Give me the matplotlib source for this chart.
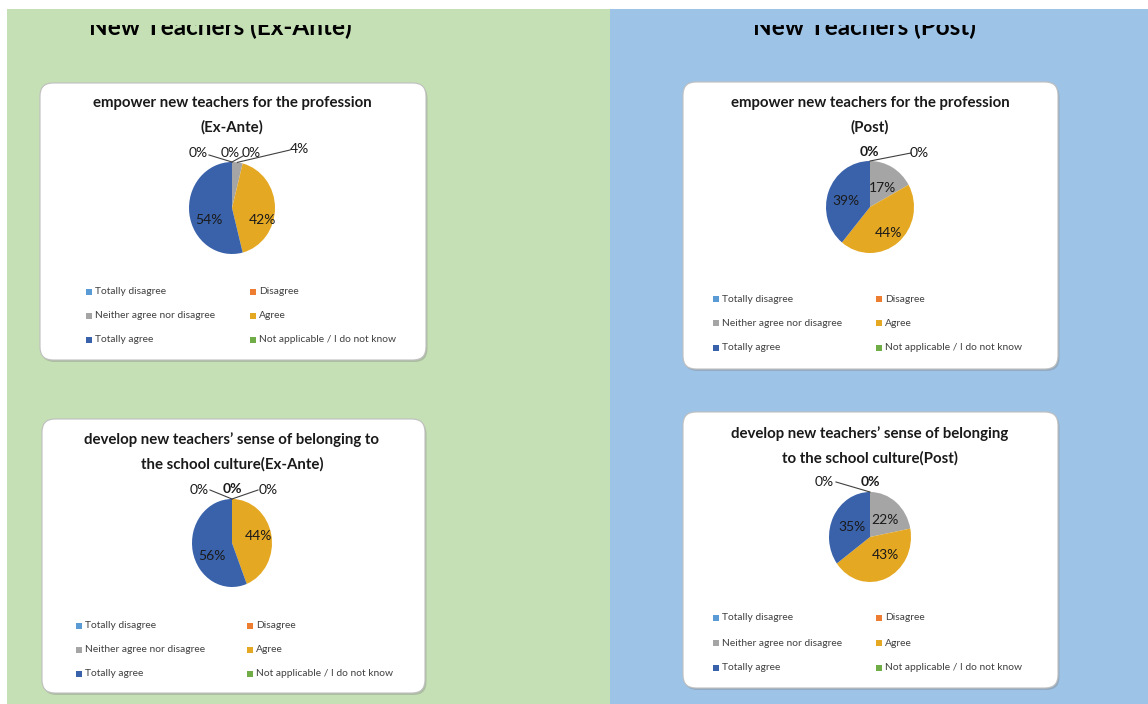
import matplotlib
matplotlib.use("Agg")
import matplotlib.pyplot as plt
from matplotlib.patches import Rectangle, FancyBboxPatch
from matplotlib.transforms import IdentityTransform
import numpy as np

# ---------------- data ----------------
categories = ["Totally disagree", "Disagree", "Neither agree nor disagree",
              "Agree", "Totally agree", "Not applicable / I do not know"]
empower_exante = [0, 0, 4, 42, 54, 0]
belonging_exante = [0, 0, 0, 44, 56, 0]
empower_post = [0, 0, 17, 44, 39, 0]
belonging_post = [0, 0, 22, 43, 35, 0]

panel_titles = ["New Teachers (Ex-Ante)", "New Teachers (Post)"]
chart_titles = [
    "empower new teachers for the profession\n(Ex-Ante)",
    "develop new teachers\u2019 sense of belonging to\nthe school culture(Ex-Ante)",
    "empower new teachers for the profession\n(Post)",
    "develop new teachers\u2019 sense of belonging\nto the school culture(Post)",
]

# ---------------- style ----------------
W, H = 1148, 704
slice_colors = ["#5B9BD5", "#ED7D31", "#A5A5A5", "#E5A823", "#3A62AA", "#70AD47"]
green_bg = "#C5E0B4"
blue_bg = "#9DC3E6"
FONT = "Lato"

plt.rcParams["font.family"] = [FONT, "DejaVu Sans"]

fig = plt.figure(figsize=(W / 100, H / 100), dpi=100)
fig.patch.set_facecolor("white")
ID = IdentityTransform()


def prect(x0, y0, x1, y1, color, z):
    r = Rectangle((x0, H - y1), x1 - x0, y1 - y0, transform=ID,
                  facecolor=color, edgecolor="none", zorder=z)
    fig.add_artist(r)
    return r


def ptext(x, y, s, **kw):
    return fig.text(x, H - y, s, transform=ID, **kw)


# backgrounds
prect(7, 9, 610, H, green_bg, 0)
prect(610, 9, W, H, blue_bg, 0)

# panel titles (cut off at the top as in the source)
for xc, (cx0, cx1), s in [(220, (7, 610), panel_titles[0]),
                          (864, (610, W), panel_titles[1])]:
    t = ptext(xc, 35.5, s, ha="center", va="baseline", fontsize=17.5,
              fontweight="bold", color="black", zorder=3)
    clip = Rectangle((cx0, 0), cx1 - cx0, H - 25, transform=ID)
    t.set_clip_path(clip)
    t.set_clip_on(True)

# chart definitions
charts = [
    dict(values=empower_exante, title=chart_titles[0],
         box=(40, 83, 426, 360), title_xy=(232, 115.5), center=(232, 208), r=(43, 46),
         leg_rows=(292, 316, 340), leg_cols=(89, 253),
         inside={3: (30, 12), 4: (-23, 12)},
         outside=[(5, (-34, -55), False, (-23, -53)),
                  (0, (-2, -55), False, None),
                  (1, (19, -55), False, (11, -52)),
                  (2, (67, -59), False, (58, -58))]),
    dict(values=belonging_exante, title=chart_titles[1],
         box=(42, 419, 425, 693), title_xy=(232, 452), center=(232, 543), r=(40, 44),
         leg_rows=(626, 650, 674), leg_cols=(79, 250),
         inside={3: (26, -7), 4: (-20, 13)},
         outside=[(5, (-33, -53), False, (-22, -53)),
                  (0, (0, -54), True, None),
                  (1, (36, -53), False, (26, -53))]),
    dict(values=empower_post, title=chart_titles[2],
         box=(683, 82, 1058, 369), title_xy=(870, 115.5), center=(870, 207), r=(44, 46),
         leg_rows=(299, 323, 348), leg_cols=(716, 879),
         inside={2: (12, -19), 3: (18, 26), 4: (-24, -6)},
         outside=[(0, (-1, -55), True, None),
                  (1, (49, -54), False, (41, -54))]),
    dict(values=belonging_post, title=chart_titles[3],
         box=(683, 412, 1058, 688), title_xy=(870, 446), center=(870, 537), r=(41, 45),
         leg_rows=(618, 643, 668), leg_cols=(716, 879),
         inside={2: (15, -17), 3: (15, 18), 4: (-18, -10)},
         outside=[(5, (-46, -55), False, (-34, -55)),
                  (0, (0, -55), True, None)]),
]

for ch in charts:
    x0, y0, x1, y1 = ch["box"]
    sh = FancyBboxPatch((x0 + 1.5, H - y1 - 2), x1 - x0, y1 - y0,
                        boxstyle="round,pad=0,rounding_size=13", transform=ID,
                        facecolor="#7f7f7f", edgecolor="none", alpha=0.35, zorder=1)
    fig.add_artist(sh)
    card = FancyBboxPatch((x0, H - y1), x1 - x0, y1 - y0,
                          boxstyle="round,pad=0,rounding_size=13", transform=ID,
                          facecolor="white", edgecolor="#BFBFBF", linewidth=0.8, zorder=2)
    fig.add_artist(card)

    tx, ty = ch["title_xy"]
    ptext(tx, ty, ch["title"], ha="center", va="center", fontsize=10.8,
          fontweight="bold", color="#1a1a1a", linespacing=1.85, zorder=5)

    cx, cy = ch["center"]
    rx, ry = ch["r"]
    ax = fig.add_axes([(cx - rx) / W, 1 - (cy + ry) / H, 2 * rx / W, 2 * ry / H])
    ax.set_zorder(6)
    vals = ch["values"]
    ax.pie(vals, colors=slice_colors, startangle=90, counterclock=False,
           radius=1, wedgeprops=dict(linewidth=0))
    ax.set_aspect("auto")
    ax.set_xlim(-1, 1)
    ax.set_ylim(-1, 1)
    ax.axis("off")

    total = float(sum(vals))
    cum = 0.0
    mids = []
    for v in vals:
        a0 = 90 - 360 * cum / total
        a1 = 90 - 360 * (cum + v) / total
        mids.append(np.deg2rad((a0 + a1) / 2))
        cum += v

    for idx, (dx, dy) in ch["inside"].items():
        ax.text(dx / rx, -dy / ry, f"{vals[idx]}%", ha="center", va="center",
                fontsize=10, color="#1a1a1a", clip_on=False)
    for idx, (dx, dy), bold, lead in ch["outside"]:
        ax.text(dx / rx, -dy / ry, f"{vals[idx]}%", ha="center", va="center",
                fontsize=10, color="#1a1a1a", clip_on=False,
                fontweight="bold" if bold else "normal")
        if lead is not None:
            sx, sy = np.cos(mids[idx]), np.sin(mids[idx])
            ax.plot([sx, lead[0] / rx], [sy, -lead[1] / ry], color="#404040",
                    linewidth=0.8, clip_on=False)

    for k, cat in enumerate(categories):
        row, col = divmod(k, 2)
        lx = ch["leg_cols"][col]
        ly = ch["leg_rows"][row]
        fig.add_artist(Rectangle((lx - 3, H - ly - 3), 6, 6, transform=ID,
                                 facecolor=slice_colors[k], edgecolor="none", zorder=5))
        ptext(lx + 6, ly, cat, ha="left", va="center", fontsize=7.4,
              color="#404040", zorder=5)

fig.savefig("out.png", dpi=100)
